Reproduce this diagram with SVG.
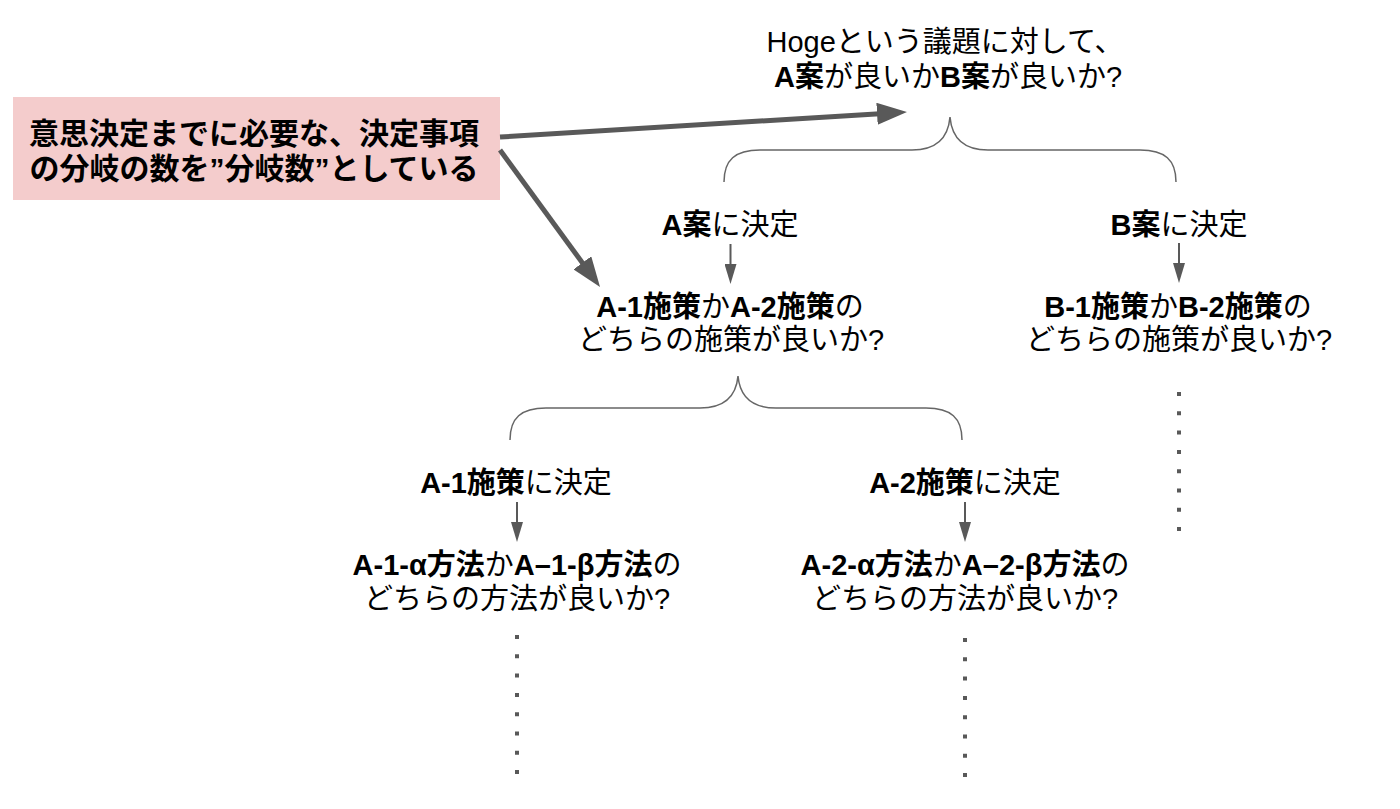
<svg xmlns="http://www.w3.org/2000/svg" width="1400" height="809" viewBox="0 0 1400 809">
<style>
text{font-family:"Liberation Sans","Noto Sans CJK JP",sans-serif;font-size:29px;fill:#000;text-anchor:middle}
.b{font-weight:bold}
.note{font-size:30px;font-weight:bold}
.big{stroke:#595959;stroke-width:5;fill:none}
.small{stroke:#595959;stroke-width:2;fill:none}
.brace{stroke:#666;stroke-width:1.5;fill:none}
.dots{stroke:#595959;stroke-width:4;stroke-dasharray:4 15.3;fill:none}
</style>
<defs>
<marker id="bigHead" viewBox="0 0 30 22" refX="15" refY="11" markerWidth="30" markerHeight="22" markerUnits="userSpaceOnUse" orient="auto"><path d="M0,0 L30,11 L0,22 Z" fill="#595959"/></marker>
<marker id="smallHead" viewBox="0 0 20 12" refX="10" refY="6" markerWidth="20" markerHeight="12" markerUnits="userSpaceOnUse" orient="auto"><path d="M0,0 L20,6 L0,12 Z" fill="#595959"/></marker>
</defs>
<rect width="1400" height="809" fill="#fff"/>
<g id="note">
<rect x="13" y="97" width="487" height="103" fill="#f4cccc"/>
<text class="note" x="254" y="144">意思決定までに必要な、決定事項</text>
<text class="note" x="254" y="179">の分岐の数を”分岐数”としている</text>
</g>
<g id="root">
<text x="945" y="52">Hogeという議題に対して、</text>
<text x="948" y="87"><tspan class="b">A案</tspan>が良いか<tspan class="b">B案</tspan>が良いか?</text>
</g>
<g id="decideA"><text x="730" y="235"><tspan class="b">A案</tspan>に決定</text></g>
<g id="decideB"><text x="1179" y="235"><tspan class="b">B案</tspan>に決定</text></g>
<g id="questionA">
<text x="730" y="317"><tspan class="b">A-1施策</tspan>か<tspan class="b">A-2施策</tspan>の</text>
<text x="731" y="350">どちらの施策が良いか?</text>
</g>
<g id="questionB">
<text x="1178" y="317"><tspan class="b">B-1施策</tspan>か<tspan class="b">B-2施策</tspan>の</text>
<text x="1179" y="350">どちらの施策が良いか?</text>
</g>
<g id="decideA1"><text x="516" y="493"><tspan class="b">A-1施策</tspan>に決定</text></g>
<g id="decideA2"><text x="965" y="493"><tspan class="b">A-2施策</tspan>に決定</text></g>
<g id="questionA1">
<text x="517" y="575"><tspan class="b">A-1-α方法</tspan>か<tspan class="b">A–1-β方法</tspan>の</text>
<text x="517" y="609">どちらの方法が良いか?</text>
</g>
<g id="questionA2">
<text x="965" y="575"><tspan class="b">A-2-α方法</tspan>か<tspan class="b">A–2-β方法</tspan>の</text>
<text x="965" y="609">どちらの方法が良いか?</text>
</g>
<g id="connectors">
<line class="big" x1="500" y1="137" x2="892" y2="112.9" marker-end="url(#bigHead)"/>
<line class="big" x1="500" y1="150" x2="591.2" y2="274.9" marker-end="url(#bigHead)"/>
<path class="brace" d="M724,182 C724,160 735,150 760,150 L912,150 C935,150 948,140 950,117 C952,140 965,150 988,150 L1140,150 C1165,150 1176,160 1176,182"/>
<path class="brace" d="M510,440 C510,418 521,408 546,408 L700,408 C723,408 736,398 738,376 C740,398 753,408 776,408 L926,408 C951,408 962,418 962,440"/>
<line class="small" x1="730.5" y1="244" x2="730.5" y2="274" marker-end="url(#smallHead)"/>
<line class="small" x1="1179" y1="243" x2="1179" y2="273" marker-end="url(#smallHead)"/>
<line class="small" x1="517" y1="502" x2="517" y2="532" marker-end="url(#smallHead)"/>
<line class="small" x1="965" y1="502" x2="965" y2="532" marker-end="url(#smallHead)"/>
<line class="dots" x1="1179" y1="392" x2="1179" y2="534"/>
<line class="dots" x1="517" y1="635" x2="517" y2="777"/>
<line class="dots" x1="965" y1="638" x2="965" y2="780"/>
</g>
</svg>
